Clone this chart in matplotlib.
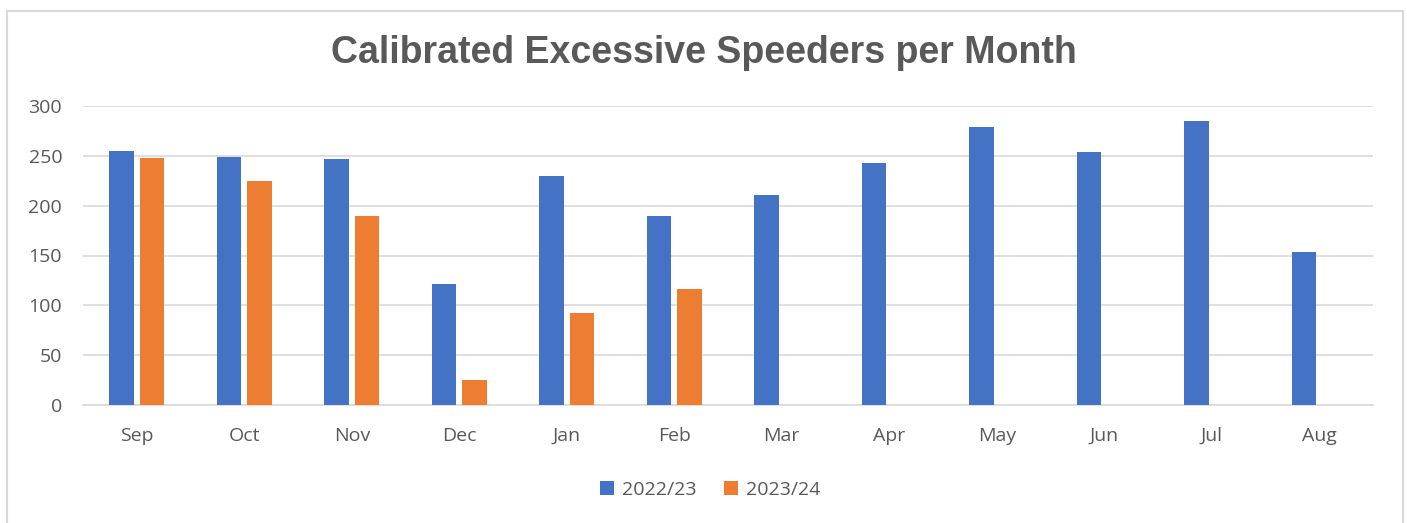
import matplotlib.pyplot as plt
import numpy as np
from matplotlib.patches import Rectangle

months = ['Sep', 'Oct', 'Nov', 'Dec', 'Jan', 'Feb', 'Mar', 'Apr', 'May', 'Jun', 'Jul', 'Aug']
season_2022 = [255, 249, 247, 121, 230, 190, 211, 243, 279, 254, 285, 154]
season_2023 = [248, 225, 190, 25, 92, 116]
series_names = ['2022/23', '2023/24']
yticks = [0, 50, 100, 150, 200, 250, 300]

blue = '#4472C4'
orange = '#ED7D31'
grey_text = '#595959'
grid_grey = '#d9d9d9'

fig = plt.figure(figsize=(14.07, 5.23), dpi=100)
ax = fig.add_axes([83/1407, 1-405/523, 1290/1407, 299/523])

x = np.arange(len(months))
width = 0.226
off = 0.142
ax.bar(x - off, season_2022, width, color=blue, label=series_names[0], zorder=3)
ax.bar(x[:len(season_2023)] + off, season_2023, width, color=orange, label=series_names[1], zorder=3)

ax.set_xlim(-0.5, len(months) - 0.5)
ax.set_ylim(0, 300)
ax.set_yticks(yticks)
ax.set_xticks(x)
ax.set_xticklabels(months)
ax.grid(axis='y', color=grid_grey, lw=1.2, zorder=0)
ax.tick_params(length=0, labelsize=14, labelcolor=grey_text)
ax.tick_params(axis='x', pad=16)
ax.tick_params(axis='y', pad=15)
for lab in ax.get_xticklabels() + ax.get_yticklabels():
    lab.set_family('Open Sans')
for s in ['top', 'right', 'left']:
    ax.spines[s].set_visible(False)
ax.spines['bottom'].set_color(grid_grey)
ax.spines['bottom'].set_linewidth(1.2)

fig.text(704/1407, 1-53/523, 'Calibrated Excessive Speeders per Month', ha='center', va='center',
         fontsize=27, fontweight='bold', color=grey_text, family='Liberation Sans')

fig.legend(loc='center', bbox_to_anchor=(710/1407, 1-490/523), ncol=2, frameon=False,
           prop={'family': 'Open Sans', 'size': 14}, labelcolor=grey_text,
           handlelength=0.75, handleheight=0.75, handletextpad=0.4, columnspacing=1.4)

# outer chart border
fig.patches.append(Rectangle((7/1407, -0.05), 1396/1407, 1 - 11/523 + 0.05, transform=fig.transFigure,
                             fill=False, edgecolor=grid_grey, lw=1.5))

fig.savefig('out.png', dpi=100)
